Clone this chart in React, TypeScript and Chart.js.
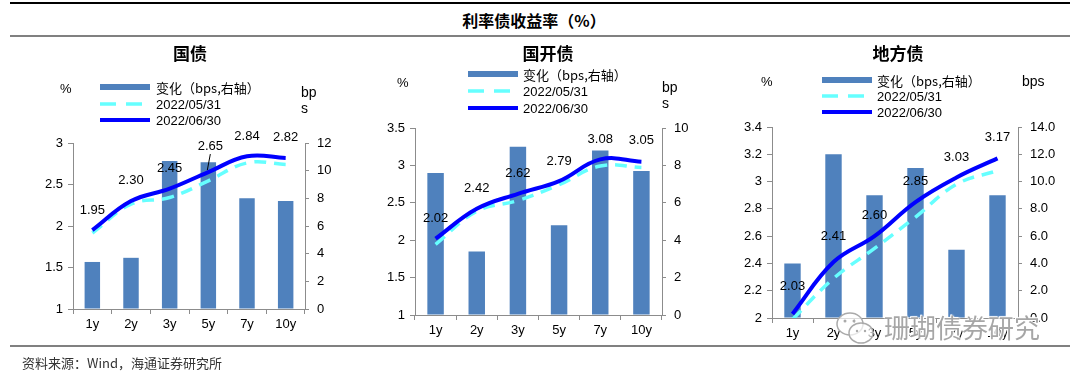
import React, { useEffect, useRef } from "react";
import { Chart, registerables } from "chart.js";

Chart.register(...registerables);

const FONT = "'Liberation Sans', Arial, sans-serif";
const CJK = "'Noto Sans CJK SC', 'Liberation Sans', sans-serif";

// ---------- data ----------
const categories = ["1y", "2y", "3y", "5y", "7y", "10y"];

const gzChange = [3.4, 3.7, 10.7, 10.6, 8.0, 7.8];
const gzMay = [1.916, 2.263, 2.343, 2.544, 2.76, 2.742];
const gzJun = [1.95, 2.3, 2.45, 2.65, 2.84, 2.82];

const gkChange = [7.6, 3.4, 9.0, 4.8, 8.8, 7.7];
const gkMay = [1.944, 2.386, 2.53, 2.742, 2.992, 2.973];
const gkJun = [2.02, 2.42, 2.62, 2.79, 3.08, 3.05];

const dfChange = [4.0, 12.0, 9.0, 11.0, 5.0, 9.0];
const dfMay = [1.99, 2.29, 2.51, 2.74, 2.98, 3.08];
const dfJun = [2.03, 2.41, 2.6, 2.85, 3.03, 3.17];

const legendLabels = ["变化（bps,右轴）", "2022/05/31", "2022/06/30"];

const mainTitle = "利率债收益率（%）";
const sourceText = "资料来源：Wind，海通证券研究所";
const watermark = "珊瑚债券研究";

type Panel = {
  title: string;
  titleX: number;
  left: number;
  area: { l: number; r: number; t: number; b: number };
  change: number[];
  may: number[];
  jun: number[];
  yMin: number;
  yMax: number;
  yStep: number;
  rMin: number;
  rMax: number;
  rStep: number;
  rDec: number;
  lift: number[];
  leader: number;
  legend: { x: number; ys: number[]; tx: number };
  pct: { x: number; y: number };
  bps: { x: number; lines: { t: string; y: number }[] };
};

const panels: Panel[] = [
  {
    title: "国债",
    titleX: 190,
    left: 0,
    area: { l: 73, r: 305, t: 143, b: 309 },
    change: gzChange,
    may: gzMay,
    jun: gzJun,
    yMin: 1, yMax: 3, yStep: 0.5,
    rMin: 0, rMax: 12, rStep: 2, rDec: 0,
    lift: [20, 21, 20, 26, 20, 21],
    leader: 3,
    legend: { x: 100, ys: [87, 104, 120], tx: 156 },
    pct: { x: 60, y: 88 },
    bps: { x: 301, lines: [{ t: "bp", y: 92 }, { t: "s", y: 108 }] },
  },
  {
    title: "国开债",
    titleX: 548,
    left: 360,
    area: { l: 415, r: 662, t: 128, b: 315 },
    change: gkChange,
    may: gkMay,
    jun: gkJun,
    yMin: 1, yMax: 3.5, yStep: 0.5,
    rMin: 0, rMax: 10, rStep: 2, rDec: 0,
    lift: [20, 20, 20, 20, 20, 21],
    leader: -1,
    legend: { x: 468, ys: [74, 91, 108], tx: 523 },
    pct: { x: 397, y: 82 },
    bps: { x: 662, lines: [{ t: "bp", y: 87 }, { t: "s", y: 103 }] },
  },
  {
    title: "地方债",
    titleX: 898,
    left: 720,
    area: { l: 772, r: 1018, t: 127, b: 318 },
    change: dfChange,
    may: dfMay,
    jun: dfJun,
    yMin: 2, yMax: 3.4, yStep: 0.2,
    rMin: 0, rMax: 14, rStep: 2, rDec: 1,
    lift: [27, 26, 21, 21, 20, 21],
    leader: -1,
    legend: { x: 822, ys: [80, 96, 112], tx: 877 },
    pct: { x: 761, y: 81 },
    bps: { x: 1022, lines: [{ t: "bps", y: 81 }] },
  },
];

const AXIS = "#8c8c8c";
const BAR = "#4F81BD";
const JUN = "#0000FF";
const MAY = "#66FFFF";

function PanelChart({ p }: { p: Panel }) {
  const ref = useRef<HTMLCanvasElement | null>(null);
  useEffect(() => {
    const canvas = ref.current;
    if (!canvas) return;
    const labelPlugin = {
      id: "valLabels",
      afterDatasetsDraw(chart: any) {
        const meta = chart.getDatasetMeta(0);
        const ctx = chart.ctx;
        ctx.save();
        ctx.font = `13px ${FONT}`;
        ctx.fillStyle = "#000";
        ctx.textAlign = "center";
        ctx.textBaseline = "middle";
        meta.data.forEach((pt: any, i: number) => {
          const lift = p.lift[i];
          ctx.fillText(p.jun[i].toFixed(2), pt.x + (i === p.leader ? 2 : 0), pt.y - lift);
          if (i === p.leader) {
            ctx.strokeStyle = "#000";
            ctx.lineWidth = 1;
            ctx.beginPath();
            ctx.moveTo(pt.x + 2, pt.y - lift + 8);
            ctx.lineTo(pt.x - 1, pt.y - 2);
            ctx.stroke();
          }
        });
        ctx.restore();
      },
    };
    const chart = new Chart(canvas, {
      type: "bar",
      data: {
        labels: categories,
        datasets: [
          {
            type: "line",
            label: legendLabels[2],
            data: p.jun,
            yAxisID: "y",
            borderColor: JUN,
            backgroundColor: JUN,
            borderWidth: 4,
            tension: 0.4,
            pointRadius: 0,
            order: 1,
          } as any,
          {
            type: "line",
            label: legendLabels[1],
            data: p.may,
            yAxisID: "y",
            borderColor: MAY,
            backgroundColor: MAY,
            borderWidth: 3.5,
            borderDash: [12, 8],
            tension: 0.4,
            pointRadius: 0,
            order: 2,
          } as any,
          {
            type: "bar",
            label: legendLabels[0],
            data: p.change,
            yAxisID: "y1",
            backgroundColor: BAR,
            barPercentage: 0.4,
            categoryPercentage: 1,
            order: 3,
          } as any,
        ],
      },
      options: {
        responsive: false,
        animation: false,
        layout: { padding: { top: p.area.t, left: 0, right: 0, bottom: 0 } },
        plugins: { legend: { display: false }, tooltip: { enabled: false }, title: { display: false } },
        scales: {
          x: {
            offset: true,
            grid: { offset: true, drawOnChartArea: false, tickLength: 5, color: AXIS },
            border: { color: AXIS, width: 1 },
            ticks: { color: "#000", font: { size: 13, family: FONT }, padding: 3 },
            afterFit: (s: any) => {
              s.height = 378 - p.area.b;
            },
          },
          y: {
            position: "left",
            min: p.yMin,
            max: p.yMax,
            ticks: {
              stepSize: p.yStep,
              color: "#000",
              font: { size: 13, family: FONT },
              padding: 5,
              callback: (v: any) => String(Math.round(Number(v) * 10) / 10),
            },
            grid: { drawOnChartArea: false, tickLength: 5, color: AXIS },
            border: { color: AXIS, width: 1 },
            afterFit: (s: any) => {
              s.width = p.area.l - p.left;
            },
          },
          y1: {
            position: "right",
            min: p.rMin,
            max: p.rMax,
            ticks: {
              stepSize: p.rStep,
              color: "#000",
              font: { size: 13, family: FONT },
              padding: 8,
              callback: (v: any) => Number(v).toFixed(p.rDec),
            },
            grid: { drawOnChartArea: false, tickLength: 4, color: AXIS },
            border: { color: AXIS, width: 1 },
            afterFit: (s: any) => {
              s.width = p.left + 360 - p.area.r;
            },
          },
        },
      } as any,
      plugins: [labelPlugin],
    });
    return () => chart.destroy();
  }, [p]);
  return (
    <canvas
      ref={ref}
      width={360}
      height={378}
      style={{ position: "absolute", left: p.left, top: 0, width: 360, height: 378 }}
    />
  );
}

function Txt({
  x, y, children, center, style,
}: { x: number; y: number; children: any; center?: boolean; style?: any }) {
  return (
    <div
      style={{
        position: "absolute",
        left: x,
        top: y,
        transform: center ? "translate(-50%, -50%)" : "translateY(-50%)",
        lineHeight: 1,
        whiteSpace: "nowrap",
        fontFamily: FONT,
        fontSize: 13,
        color: "#000",
        ...style,
      }}
    >
      {children}
    </div>
  );
}

function Legend({ p }: { p: Panel }) {
  const { x, ys, tx } = p.legend;
  return (
    <>
      <div style={{ position: "absolute", left: x, top: ys[0] - 3, width: 50, height: 6, background: BAR }} />
      <svg style={{ position: "absolute", left: x, top: ys[1] - 3 }} width={50} height={6}>
        <line x1={0} y1={3} x2={50} y2={3} stroke={MAY} strokeWidth={3.5} strokeDasharray="16 10" />
      </svg>
      <svg style={{ position: "absolute", left: x, top: ys[2] - 3 }} width={50} height={6}>
        <line x1={0} y1={3} x2={50} y2={3} stroke={JUN} strokeWidth={4} strokeLinecap="round" />
      </svg>
      <Txt x={tx} y={ys[0]} style={{ fontFamily: CJK }}>{legendLabels[0]}</Txt>
      <Txt x={tx} y={ys[1]}>{legendLabels[1]}</Txt>
      <Txt x={tx} y={ys[2]}>{legendLabels[2]}</Txt>
    </>
  );
}

export default function App() {
  return (
    <div style={{ position: "fixed", left: 0, top: 0, width: 1080, height: 378, background: "#fff", overflow: "hidden" }}>
      <div style={{ position: "absolute", left: 10, top: 2, width: 1060, height: 1.5, background: "#000" }} />
      <Txt x={534} y={20} center style={{ fontFamily: CJK, fontSize: 16, fontWeight: 700 }}>{mainTitle}</Txt>
      <div style={{ position: "absolute", left: 10, top: 35, width: 1060, height: 2, background: "#808080" }} />
      {panels.map((p, i) => (
        <React.Fragment key={i}>
          <PanelChart p={p} />
          <Txt x={p.titleX} y={52} center style={{ fontFamily: CJK, fontSize: 17, fontWeight: 700 }}>{p.title}</Txt>
          <Legend p={p} />
          <Txt x={p.pct.x} y={p.pct.y}>%</Txt>
          {p.bps.lines.map((l, j) => (
            <Txt key={j} x={p.bps.x} y={l.y} style={{ fontSize: 14 }}>{l.t}</Txt>
          ))}
        </React.Fragment>
      ))}
      <div style={{ position: "absolute", left: 10, top: 345, width: 1060, height: 2, background: "#808080" }} />
      <Txt x={22} y={362} style={{ fontFamily: CJK, fontSize: 13, color: "#333" }}>{sourceText}</Txt>
      <svg style={{ position: "absolute", left: 835, top: 309 }} width={42} height={38}>
        <ellipse cx={15} cy={15} rx={13} ry={11} fill="rgba(255,255,255,0.7)" stroke="#aaa" strokeWidth={1.5} />
        <ellipse cx={26} cy={24} rx={12} ry={10} fill="rgba(255,255,255,0.7)" stroke="#aaa" strokeWidth={1.5} />
        <circle cx={10} cy={12} r={1.5} fill="#aaa" />
        <circle cx={19} cy={12} r={1.5} fill="#aaa" />
        <circle cx={22} cy={22} r={1.2} fill="#aaa" />
        <circle cx={30} cy={22} r={1.2} fill="#aaa" />
      </svg>
      <Txt
        x={884}
        y={327}
        style={{
          fontFamily: CJK,
          fontSize: 26,
          color: "rgba(150,150,150,0.85)",
          letterSpacing: 0,
          textShadow: "0 0 2px #fff, 0 0 2px #fff, 1px 1px 0 #fff, -1px -1px 0 #fff",
        }}
      >
        {watermark}
      </Txt>
    </div>
  );
}
